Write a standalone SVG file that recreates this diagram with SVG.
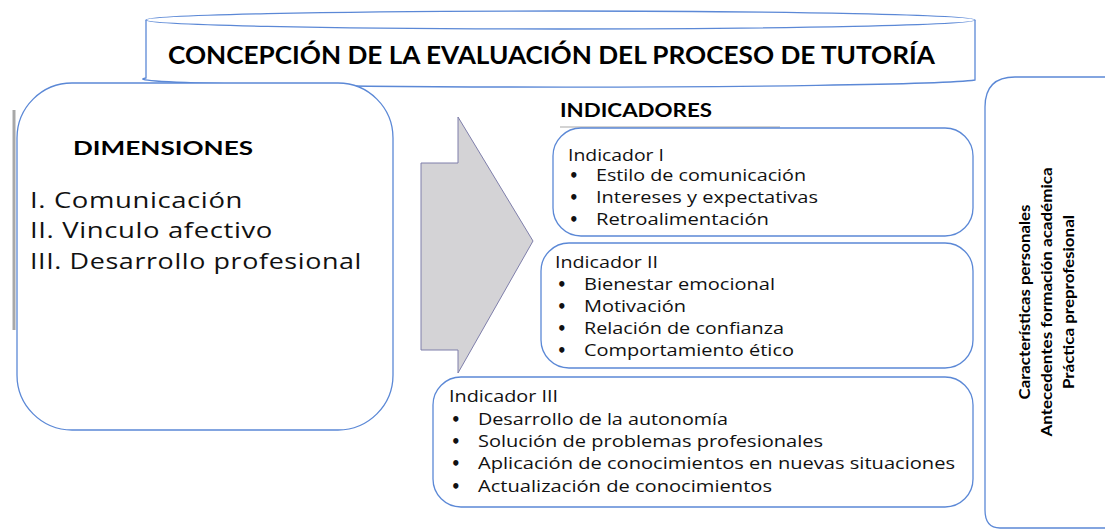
<svg xmlns="http://www.w3.org/2000/svg" width="1105" height="531" viewBox="0 0 1105 531">
<style>
.box{fill:#fff;stroke:#5b88d6;stroke-width:1.3}
.t{font-family:"Open Sans","DejaVu Sans",sans-serif;fill:#111}
.b{font-family:Lato,"Open Sans",sans-serif;font-weight:bold;fill:#000}
.item{font-size:16px}
.bul{font-family:"DejaVu Sans",sans-serif;font-size:15px;font-weight:bold;fill:#111}
.dim{font-size:22px;letter-spacing:0.5px}
</style>
<rect width="1105" height="531" fill="#fff"/>
<g id="title">
<path class="box" d="M146,20 L146,78 A415,8 0 0 0 975,80 L975,20"/>
<ellipse class="box" cx="560.5" cy="20" rx="414.5" ry="9"/>
<text class="b" x="168" y="64" font-size="24" textLength="767" lengthAdjust="spacingAndGlyphs">CONCEPCIÓN DE LA EVALUACIÓN DEL PROCESO DE TUTORÍA</text>
</g>
<g id="dimensiones">
<line x1="14" y1="110" x2="14" y2="330" stroke="#a8a8a8" stroke-width="3"/>
<rect class="box" x="17" y="83" width="376" height="347" rx="55" ry="55"/>
<text class="b" x="73" y="155" font-size="18" textLength="180" lengthAdjust="spacingAndGlyphs">DIMENSIONES</text>
<text class="t dim" x="30" y="208" textLength="213" lengthAdjust="spacingAndGlyphs">I. Comunicación</text>
<text class="t dim" x="30" y="238" textLength="243" lengthAdjust="spacingAndGlyphs">II. Vinculo afectivo</text>
<text class="t dim" x="30" y="269" textLength="332" lengthAdjust="spacingAndGlyphs">III. Desarrollo profesional</text>
</g>
<g id="connectors">
<path d="M421,163 L458,163 L458,117 L533,241 L458,373 L458,350 L421,350 Z" fill="#d4d3d6" stroke="#7e7eaa" stroke-width="1"/>
</g>
<g id="indicadores-label">
<text class="b" x="560" y="117" font-size="18" textLength="152" lengthAdjust="spacingAndGlyphs">INDICADORES</text>
</g>
<g id="indicador1">
<line x1="560" y1="127" x2="780" y2="127" stroke="#c4c4c4" stroke-width="1.5"/>
<rect class="box" x="553" y="128" width="420" height="108" rx="28" ry="28"/>
<text class="t item" x="568" y="161" textLength="96" lengthAdjust="spacingAndGlyphs">Indicador I</text>
<text class="bul" x="569" y="181">•</text>
<text class="t item" x="596" y="181" textLength="210" lengthAdjust="spacingAndGlyphs">Estilo de comunicación</text>
<text class="bul" x="569" y="203">•</text>
<text class="t item" x="596" y="203" textLength="222" lengthAdjust="spacingAndGlyphs">Intereses y expectativas</text>
<text class="bul" x="569" y="225">•</text>
<text class="t item" x="596" y="225" textLength="173" lengthAdjust="spacingAndGlyphs">Retroalimentación</text>
</g>
<g id="indicador2">
<rect class="box" x="541" y="243" width="432" height="125" rx="28" ry="28"/>
<text class="t item" x="555" y="268" textLength="103" lengthAdjust="spacingAndGlyphs">Indicador II</text>
<text class="bul" x="557" y="290">•</text>
<text class="t item" x="584" y="290" textLength="191" lengthAdjust="spacingAndGlyphs">Bienestar emocional</text>
<text class="bul" x="557" y="312">•</text>
<text class="t item" x="584" y="312" textLength="102" lengthAdjust="spacingAndGlyphs">Motivación</text>
<text class="bul" x="557" y="334">•</text>
<text class="t item" x="584" y="334" textLength="200" lengthAdjust="spacingAndGlyphs">Relación de confianza</text>
<text class="bul" x="557" y="356">•</text>
<text class="t item" x="584" y="356" textLength="210" lengthAdjust="spacingAndGlyphs">Comportamiento ético</text>
</g>
<g id="indicador3">
<rect class="box" x="433" y="377" width="540" height="130" rx="28" ry="28"/>
<text class="t item" x="449" y="402" textLength="109" lengthAdjust="spacingAndGlyphs">Indicador III</text>
<text class="bul" x="451" y="425">•</text>
<text class="t item" x="478" y="425" textLength="250" lengthAdjust="spacingAndGlyphs">Desarrollo de la autonomía</text>
<text class="bul" x="451" y="447">•</text>
<text class="t item" x="478" y="447" textLength="345" lengthAdjust="spacingAndGlyphs">Solución de problemas profesionales</text>
<text class="bul" x="451" y="469">•</text>
<text class="t item" x="478" y="469" textLength="477" lengthAdjust="spacingAndGlyphs">Aplicación de conocimientos en nuevas situaciones</text>
<text class="bul" x="451" y="492">•</text>
<text class="t item" x="478" y="492" textLength="294" lengthAdjust="spacingAndGlyphs">Actualización de conocimientos</text>
</g>
<g id="caracteristicas">
<path class="box" d="M1110,77 L1015,77 Q985,77 985,107 L985,510 Q985,528 1000,528 L1110,528"/>
<g transform="translate(1046,302) rotate(-90)">
<text class="b" x="0" y="-16" font-size="16" text-anchor="middle" textLength="195" lengthAdjust="spacingAndGlyphs">Características personales</text>
<text class="b" x="0" y="6" font-size="16" text-anchor="middle" textLength="269" lengthAdjust="spacingAndGlyphs">Antecedentes formación académica</text>
<text class="b" x="0" y="28" font-size="16" text-anchor="middle" textLength="174" lengthAdjust="spacingAndGlyphs">Práctica preprofesional</text>
</g>
</g>
</svg>
